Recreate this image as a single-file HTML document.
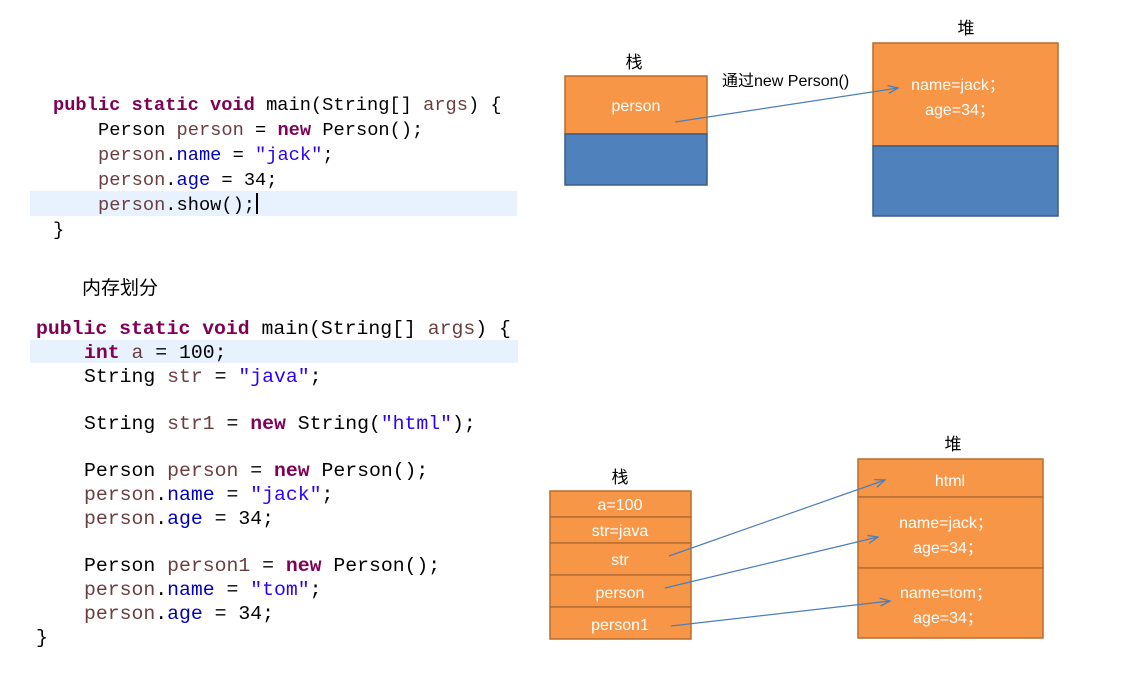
<!DOCTYPE html>
<html><head><meta charset="utf-8"><style>
html,body{margin:0;padding:0;background:#fff;}
svg{display:block;}
.code{font-family:"Liberation Mono",monospace;}
.k{fill:#7f0055;font-weight:bold;}
.v{fill:#6a3e3e;}
.f{fill:#0000c0;}
.s{fill:#2a00ff;}
.cj{font-family:"Liberation Sans","Noto Sans CJK SC",sans-serif;}
.w{fill:#fff;font-family:"Liberation Sans","Noto Sans CJK SC",sans-serif;font-size:16px;text-anchor:middle;}
</style></head><body>
<svg width="1143" height="681" viewBox="0 0 1143 681" xmlns="http://www.w3.org/2000/svg">
<defs><marker id="ar" markerWidth="12" markerHeight="10" refX="11" refY="5" orient="auto" markerUnits="userSpaceOnUse"><path d="M1,1 L11,5 L1,9" fill="none" stroke="#4a7ebb" stroke-width="1.3"/></marker></defs>
<!-- code block 1 -->
<rect x="30" y="191" width="487" height="25" fill="#e8f2fe"/>
<g class="code" font-size="18.7px" fill="#000">
<text x="53" y="110"><tspan class="k">public static void</tspan> main(String[] <tspan class="v">args</tspan>) {</text>
<text x="98" y="135">Person <tspan class="v">person</tspan> = <tspan class="k">new</tspan> Person();</text>
<text x="98" y="160"><tspan class="v">person</tspan>.<tspan class="f">name</tspan> = <tspan class="s">"jack"</tspan>;</text>
<text x="98" y="185"><tspan class="v">person</tspan>.<tspan class="f">age</tspan> = 34;</text>
<text x="98" y="210"><tspan class="v">person</tspan>.show();</text>
<text x="53" y="235">}</text>
</g>
<rect x="256" y="193" width="2" height="21" fill="#000"/>
<text x="82" y="294" class="cj" font-size="19px" fill="#000">内存划分</text>
<!-- code block 2 -->
<rect x="30" y="340" width="488" height="23" fill="#e8f2fe"/>
<g class="code" font-size="19.8px" fill="#000">
<text x="36" y="334"><tspan class="k">public static void</tspan> main(String[] <tspan class="v">args</tspan>) {</text>
<text x="84" y="358"><tspan class="k">int</tspan> <tspan class="v">a</tspan> = 100;</text>
<text x="84" y="382">String <tspan class="v">str</tspan> = <tspan class="s">"java"</tspan>;</text>
<text x="84" y="429">String <tspan class="v">str1</tspan> = <tspan class="k">new</tspan> String(<tspan class="s">"html"</tspan>);</text>
<text x="84" y="476">Person <tspan class="v">person</tspan> = <tspan class="k">new</tspan> Person();</text>
<text x="84" y="500"><tspan class="v">person</tspan>.<tspan class="f">name</tspan> = <tspan class="s">"jack"</tspan>;</text>
<text x="84" y="524"><tspan class="v">person</tspan>.<tspan class="f">age</tspan> = 34;</text>
<text x="84" y="571">Person <tspan class="v">person1</tspan> = <tspan class="k">new</tspan> Person();</text>
<text x="84" y="595"><tspan class="v">person</tspan>.<tspan class="f">name</tspan> = <tspan class="s">"tom"</tspan>;</text>
<text x="84" y="619"><tspan class="v">person</tspan>.<tspan class="f">age</tspan> = 34;</text>
<text x="36" y="643">}</text>
</g>
<!-- top diagram -->
<text x="634" y="68" class="cj" font-size="17px" text-anchor="middle">栈</text>
<text x="966" y="34" class="cj" font-size="17px" text-anchor="middle">堆</text>
<rect x="565" y="76" width="142" height="58" fill="#f79646" stroke="#b66d31" stroke-width="1.5"/>
<rect x="565" y="134" width="142" height="51" fill="#4f81bd" stroke="#385d8a" stroke-width="1.5"/>
<text x="636" y="111" class="w">person</text>
<rect x="873" y="43" width="185" height="103" fill="#f79646" stroke="#b66d31" stroke-width="1.5"/>
<rect x="873" y="146" width="185" height="70" fill="#4f81bd" stroke="#385d8a" stroke-width="1.5"/>
<text x="958" y="90" class="w">name=jack；</text>
<text x="960" y="115" class="w">age=34；</text>
<text x="722" y="86" class="cj" font-size="16px" fill="#000">通过new Person()</text>
<line x1="675" y1="122" x2="898" y2="88" stroke="#4a7ebb" stroke-width="1.2" marker-end="url(#ar)"/>
<!-- bottom diagram -->
<text x="620" y="483" class="cj" font-size="17px" text-anchor="middle">栈</text>
<text x="953" y="450" class="cj" font-size="17px" text-anchor="middle">堆</text>
<g fill="#f79646" stroke="#b66d31" stroke-width="1.5">
<rect x="550" y="491" width="141" height="26"/>
<rect x="550" y="517" width="141" height="26"/>
<rect x="550" y="543" width="141" height="32"/>
<rect x="550" y="575" width="141" height="32"/>
<rect x="550" y="607" width="141" height="32"/>
<rect x="858" y="459" width="185" height="38"/>
<rect x="858" y="497" width="185" height="71"/>
<rect x="858" y="568" width="185" height="70"/>
</g>
<text x="620" y="510" class="w">a=100</text>
<text x="620" y="536" class="w">str=java</text>
<text x="620" y="565" class="w">str</text>
<text x="620" y="598" class="w">person</text>
<text x="620" y="630" class="w">person1</text>
<text x="950" y="486" class="w">html</text>
<text x="946" y="528" class="w">name=jack；</text>
<text x="948" y="553" class="w">age=34；</text>
<text x="946" y="598" class="w">name=tom；</text>
<text x="948" y="623" class="w">age=34；</text>
<line x1="669" y1="556" x2="885" y2="480" stroke="#4a7ebb" stroke-width="1.2" marker-end="url(#ar)"/>
<line x1="665" y1="588" x2="878" y2="537" stroke="#4a7ebb" stroke-width="1.2" marker-end="url(#ar)"/>
<line x1="671" y1="626" x2="890" y2="601" stroke="#4a7ebb" stroke-width="1.2" marker-end="url(#ar)"/>
</svg>
</body></html>
